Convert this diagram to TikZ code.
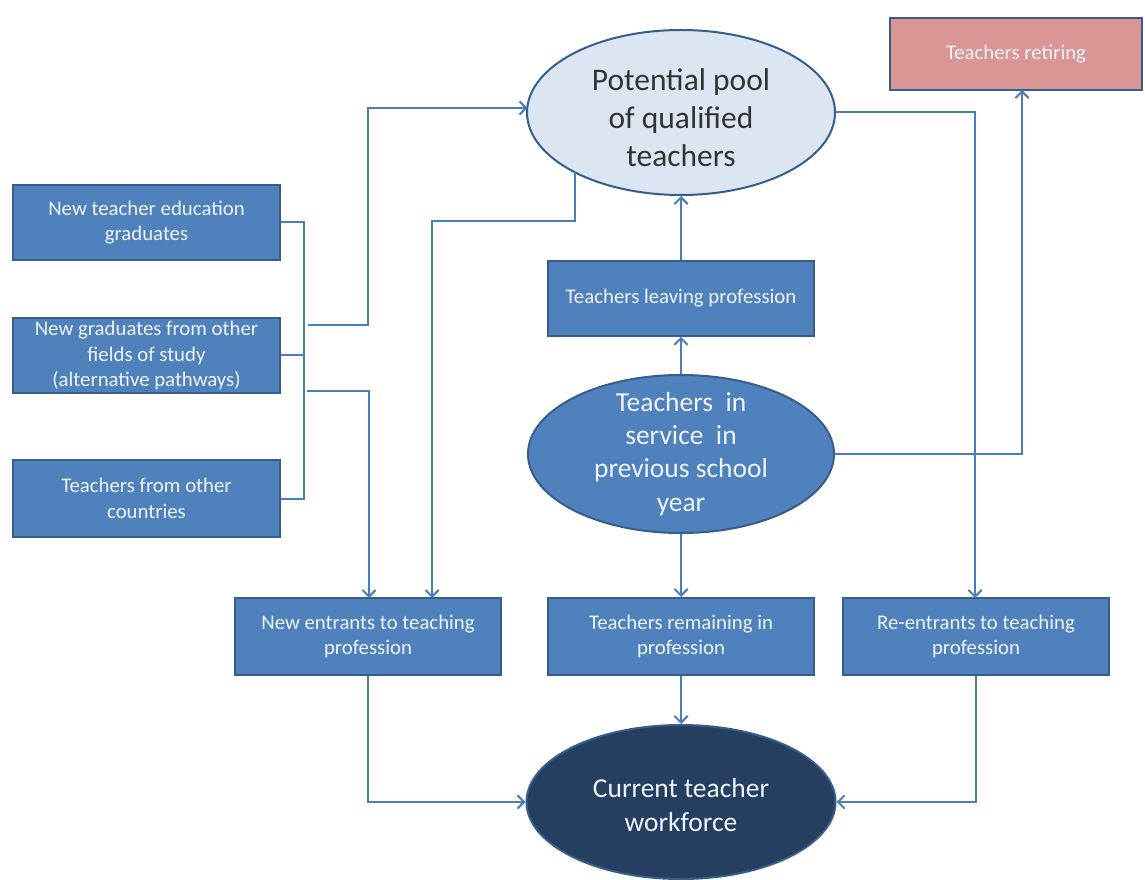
\documentclass[tikz,border=0pt]{standalone}
\usepackage{fontspec}
\setmainfont{Carlito}
\usetikzlibrary{arrows.meta,calc,shapes.geometric}
\definecolor{boxfill}{HTML}{4F81BD}
\definecolor{boxline}{HTML}{385D8A}
\definecolor{poolfill}{HTML}{DCE6F2}
\definecolor{curfill}{HTML}{243F60}
\definecolor{retfill}{HTML}{D99694}
\definecolor{connc}{HTML}{4A7EBB}
\definecolor{lighttext}{HTML}{EEF3FA}
\definecolor{darktext}{HTML}{333333}
\begin{document}
\begin{tikzpicture}[x=0.75pt,y=-0.75pt,
  blk/.style={draw=boxline, line width=1.5pt, fill=boxfill, text=lighttext, align=center,
    font=\fontsize{15.6}{19}\selectfont, minimum width=200pt, minimum height=56pt, inner sep=0pt},
  oval/.style={ellipse, draw=boxline, line width=1.5pt, inner sep=0pt},
  link/.style={draw=connc, line width=1.5pt},
  arr/.style={link, -{Straight Barb[length=5pt,width=10pt]}},
  bigtext/.style={align=center, font=\fontsize{23.6}{28.5}\selectfont},
  midtext/.style={align=center, font=\fontsize{20.6}{25}\selectfont}
]
\useasboundingbox (0,0) rectangle (1145,880);
\fill[white] (0,0) rectangle (1145,880);

% left boxes
\node[blk] (ntg) at (146.5,222.5) {New teacher education\\graduates};
\node[blk] (ngo) at (146.5,355.5) {New graduates from other\\fields of study\\(alternative pathways)};
\node[blk, minimum height=57.75pt] (tfo) at (146.5,498.5) {Teachers from other\\countries};

% centre boxes
\node[blk] (lev) at (681,298.5) {Teachers leaving profession};
\node[blk, minimum height=57.75pt] (nen) at (368,636.5) {New entrants to teaching\\profession};
\node[blk, minimum height=57.75pt] (rem) at (681,636.5) {Teachers remaining in\\profession};
\node[blk, minimum height=57.75pt] (ree) at (976,636.5) {Re-entrants to teaching\\profession};
\node[blk, fill=retfill, minimum width=189pt, minimum height=54pt] (ret) at (1016,54) {Teachers retiring};

% ellipses
\node[oval, fill=poolfill, minimum width=231pt, minimum height=123.75pt] (pool) at (681,112.5) {};
\node[bigtext, text=darktext] (pooltxt) at (681,118) {Potential pool\\of qualified\\teachers};
\node[oval, fill=boxfill, minimum width=229.5pt, minimum height=118.5pt] (svc) at (681,454) {};
\node[midtext, text=lighttext] (svctxt) at (681,454) {Teachers\ \ in\\service\ \ in\\previous\ school\\year};
\node[oval, fill=curfill, minimum width=231.75pt, minimum height=115.5pt] (cur) at (681,802) {};
\node[midtext, text=lighttext] (curtxt) at (681,805) {Current\ teacher\\workforce};

% bracket on the left
\coordinate (bt) at (304,222.5);
\coordinate (bb) at (304,498.5);
\coordinate (bm) at (304,355.5);
\draw[link] (ntg.east) -- (bt) -- (bb) -- (tfo.east);
\draw[link] (ngo.east) -- (bm);

% bracket to pool
\coordinate (b1) at (308,325);
\coordinate (b1t) at (368,108);
\coordinate (poolin) at (527.5,108);
\draw[arr] (b1) -| (b1t) -- (poolin);

% bracket to new entrants
\coordinate (b2) at (307,391);
\coordinate (nenin1) at (369,598);
\draw[arr] (b2) -| (nenin1);

% pool to new entrants
\coordinate (pl) at (575,172);
\coordinate (plb) at (575,221);
\coordinate (nenin2) at (432,598);
\draw[arr] (pl) -- (plb) -| (nenin2);

% centre column
\draw[arr] (lev.north) -- (pool.south);
\draw[arr] (svc.north) -- (lev.south);
\draw[arr] (svc.south) -- (rem.north);
\draw[arr] (rem.south) -- (cur.north);

% right side
\coordinate (retin) at (1022,90);
\draw[arr] (svc.east) -| (retin);
\coordinate (reein) at (975,598);
\draw[arr] (pool.east) -| (reein);

% into current workforce
\draw[arr] (nen.south) |- (cur.west);
\draw[arr] (ree.south) |- (cur.east);
\end{tikzpicture}
\end{document}
